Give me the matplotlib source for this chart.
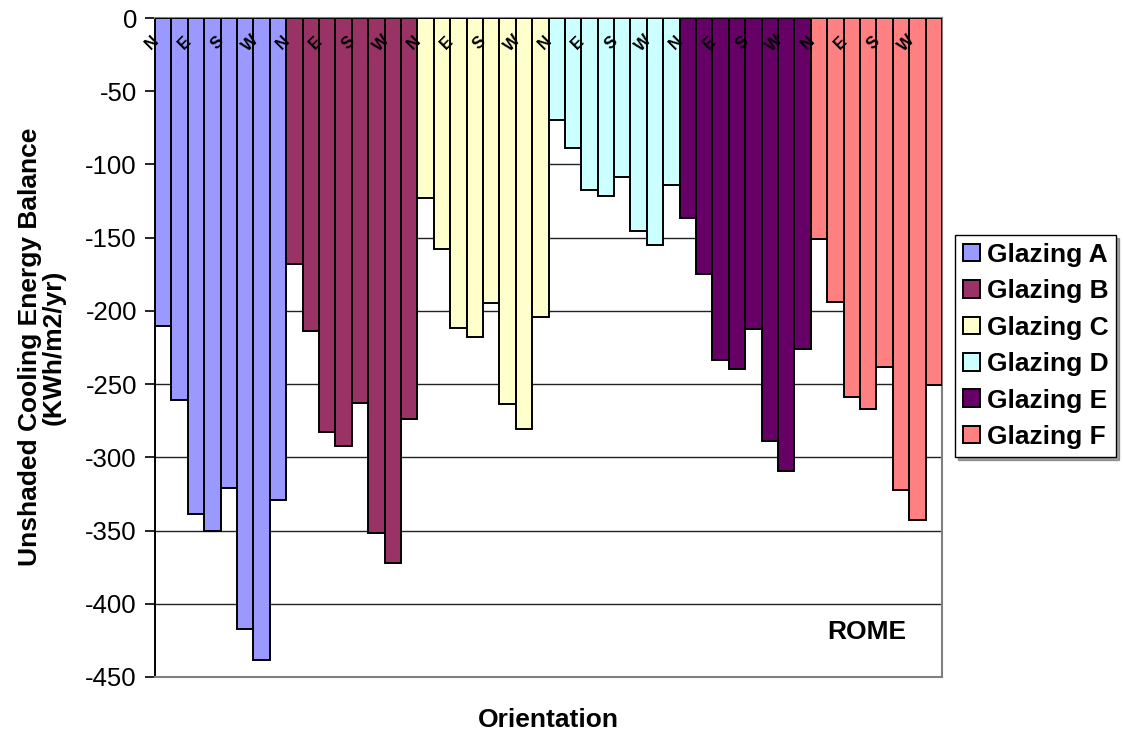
import numpy as np
import matplotlib
matplotlib.use("Agg")
import matplotlib.pyplot as plt

plt.rcParams['font.family'] = ['Liberation Sans', 'DejaVu Sans']
plt.rcParams['axes.unicode_minus'] = False

# values (KWh/m2/yr), 8 orientations per glazing
glazings = ["Glazing A", "Glazing B", "Glazing C", "Glazing D", "Glazing E", "Glazing F"]
glazing_a = [-210, -261, -338.5, -350.5, -321, -417.5, -438.5, -329]
glazing_b = [-168, -214, -282.5, -292.5, -263, -351.5, -372, -274]
glazing_c = [-123, -158, -211.5, -218, -194.5, -263.5, -280.5, -204.5]
glazing_d = [-69.5, -88.5, -117.5, -121.5, -108.5, -145.5, -155, -114]
glazing_e = [-136.5, -175, -233.5, -240, -212.5, -289, -309.5, -226]
glazing_f = [-151, -194, -258.5, -267, -238.5, -322, -343, -250.5]
orientations = ["N", "", "E", "", "S", "", "W", ""]
colors = ["#9999FF", "#993366", "#FFFFCC", "#CCFFFF", "#660066", "#FF8080"]

series = [glazing_a, glazing_b, glazing_c, glazing_d, glazing_e, glazing_f]

fig = plt.figure(figsize=(11.23, 7.38), dpi=100)
ax = fig.add_axes([155/1123, 1-677/738, (942-155)/1123, (677-18)/738])

n = len(orientations)
for g, (vals, name, col) in enumerate(zip(series, glazings, colors)):
    x = np.arange(n) + g*n
    ax.bar(x, vals, width=1.0, color=col, edgecolor="black", linewidth=1.4,
           label=name, zorder=3)
    # orientation labels just under the zero line
    for i, lab in enumerate(orientations):
        if lab:
            ax.text(x[i] - 0.7, -17, lab, rotation=45, ha="center", va="center",
                    fontsize=12, fontweight="bold", zorder=4)

ax.set_xlim(-0.5, n*len(series) - 0.5)
ax.set_ylim(-450, 0)
ax.set_yticks(np.arange(-450, 1, 50))
ax.set_xticks([])
ax.tick_params(axis="y", labelsize=18.5, length=7, width=1.2, direction="out", pad=6)
ax.yaxis.grid(True, color="#222222", linewidth=1.0, zorder=0)

for side in ["top", "right", "bottom"]:
    ax.spines[side].set_color("#808080")
    ax.spines[side].set_linewidth(1.5)
ax.spines["left"].set_color("black")
ax.spines["left"].set_linewidth(1.4)

ax.text(0.905, 0.068, "ROME", transform=ax.transAxes, ha="center", va="center",
        fontsize=19, fontweight="bold")

fig.text(548/1123, 1-720/738, "Orientation", ha="center", va="center",
         fontsize=19, fontweight="bold")
fig.text(42/1123, 1-347/738, "Unshaded Cooling Energy Balance\n(KWh/m2/yr)",
         rotation=90, ha="center", va="center", multialignment="center",
         fontsize=19, fontweight="bold", linespacing=1.0)

leg = ax.legend(loc="upper left", bbox_to_anchor=(955/1123, 1-235/738),
                bbox_transform=fig.transFigure, frameon=True, fancybox=False,
                shadow=True, prop={"size": 19, "weight": "bold"},
                handlelength=0.65, handleheight=0.65, handletextpad=0.25,
                labelspacing=0.47, borderpad=0.3, borderaxespad=0)
leg.get_frame().set_edgecolor("black")
leg.get_frame().set_linewidth(1.0)

fig.savefig("out.png", dpi=100)
